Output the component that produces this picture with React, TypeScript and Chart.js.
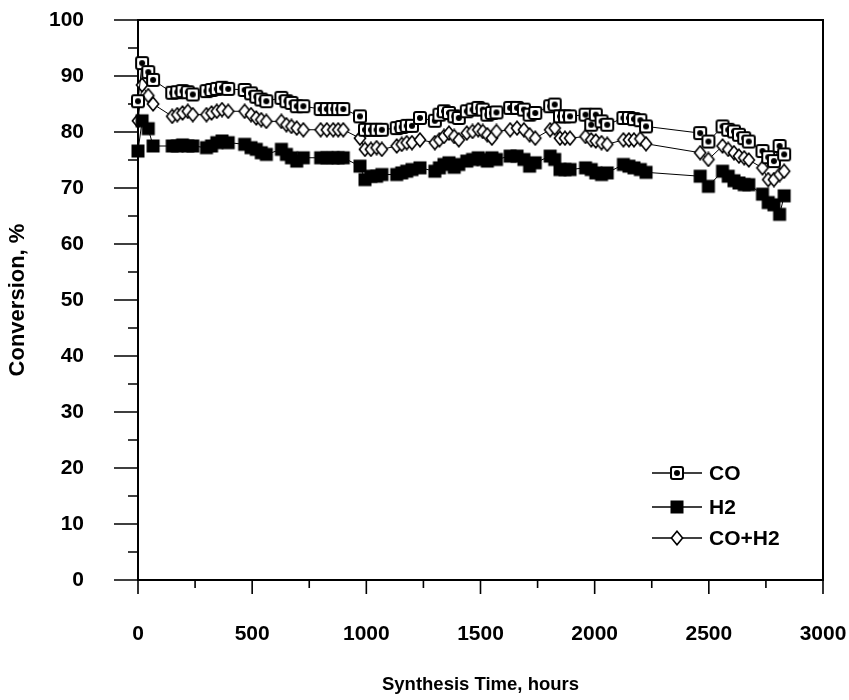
import React, { useEffect, useRef } from "react";
import { Chart, registerables } from "chart.js";

Chart.register(...registerables);

// Synthesis time of each sample, hours
const hours = [
  0, 18, 45, 66, 150, 172, 195, 218, 240, 300, 322, 345, 368, 395, 467, 495, 518, 540, 562,
  628, 650, 672, 695, 724, 800, 827, 855, 877, 899, 972, 994, 1020, 1045, 1068, 1133, 1155,
  1177, 1200, 1235, 1300, 1320, 1340, 1362, 1385, 1405, 1440, 1465, 1490, 1510, 1530, 1550,
  1570, 1630, 1660, 1690, 1715, 1740, 1805, 1825, 1848, 1870, 1892, 1960, 1985, 2005, 2030,
  2055, 2126, 2150, 2172, 2200, 2225, 2462, 2498, 2560, 2585, 2610, 2632, 2655, 2675, 2735,
  2760, 2785, 2810, 2830,
];

// CO conversion, %
const coConversion = [
  85.5, 92.3, 90.7, 89.3, 87.0, 87.1, 87.3, 87.1, 86.7, 87.3, 87.5, 87.7, 87.9, 87.7, 87.5, 86.9,
  86.3, 85.8, 85.5, 86.1, 85.5, 85.2, 84.6, 84.6, 84.1, 84.1, 84.1, 84.1, 84.1, 82.8, 80.4, 80.4,
  80.4, 80.4, 80.7, 80.9, 81.1, 81.1, 82.5, 82.0, 83.1, 83.7, 83.4, 82.8, 82.5, 83.7, 84.0, 84.3,
  84.0, 83.1, 83.4, 83.5, 84.3, 84.3, 84.0, 83.1, 83.4, 84.6, 84.9, 82.8, 82.8, 82.8, 83.1, 81.3,
  83.1, 81.9, 81.3, 82.5, 82.5, 82.3, 82.1, 81.0, 79.8, 78.3, 81.0, 80.4, 80.1, 79.5, 78.9, 78.3,
  76.6, 75.5, 74.8, 77.5, 76.0,
];

// H2 conversion, %
const h2Conversion = [
  76.6, 82.0, 80.6, 77.5, 77.5, 77.5, 77.7, 77.5, 77.5, 77.2, 77.5, 78.1, 78.4, 78.1, 77.8, 77.2,
  76.9, 76.3, 76.0, 76.9, 76.0, 75.4, 74.8, 75.4, 75.4, 75.4, 75.4, 75.4, 75.4, 73.9, 71.5, 72.1,
  72.1, 72.4, 72.4, 72.7, 73.0, 73.3, 73.6, 73.0, 73.6, 74.2, 74.5, 73.7, 74.2, 74.8, 75.1, 75.4,
  75.1, 74.8, 75.4, 75.1, 75.7, 75.7, 75.1, 73.9, 74.5, 75.7, 75.1, 73.3, 73.3, 73.3, 73.6, 73.3,
  72.7, 72.4, 72.7, 74.2, 73.9, 73.6, 73.3, 72.8, 72.1, 70.3, 73.0, 72.1, 71.3, 70.9, 70.6, 70.6,
  68.9, 67.4, 67.0, 65.3, 68.6,
];

// CO+H2 conversion, %
const synGasConversion = [
  82.0, 88.4, 86.5, 85.0, 82.8, 83.1, 83.4, 83.7, 83.1, 83.1, 83.4, 83.7, 84.0, 83.7, 83.7, 83.1,
  82.5, 82.2, 81.9, 81.9, 81.3, 81.0, 80.7, 80.4, 80.4, 80.4, 80.4, 80.4, 80.4, 78.9, 76.9, 76.9,
  77.2, 76.9, 77.5, 77.8, 78.1, 78.1, 78.6, 78.1, 78.6, 79.2, 79.8, 79.2, 78.6, 79.8, 80.1, 80.4,
  80.1, 79.5, 78.9, 80.1, 80.4, 80.7, 80.4, 79.5, 78.9, 80.4, 80.7, 78.9, 78.9, 78.9, 79.2, 78.6,
  78.4, 78.1, 77.8, 78.6, 78.6, 78.6, 78.8, 77.9, 76.3, 75.1, 77.5, 76.9, 76.3, 75.7, 75.4, 75.0,
  73.6, 71.5, 71.5, 72.4, 73.0,
];

const seriesNames = ["CO", "H2", "CO+H2"];

const xTickValues = [0, 500, 1000, 1500, 2000, 2500, 3000];
const xTickLabels = ["0", "500", "1000", "1500", "2000", "2500", "3000"];
const xMinorTicks = [250, 750, 1250, 1750, 2250, 2750];
const yTickValues = [0, 10, 20, 30, 40, 50, 60, 70, 80, 90, 100];
const yTickLabels = ["0", "10", "20", "30", "40", "50", "60", "70", "80", "90", "100"];
const yMinorTicks = [5, 15, 25, 35, 45, 55, 65, 75, 85, 95];

const FONT = '"Liberation Sans", Arial, Helvetica, sans-serif';
const INK = "#000";

type MarkerKind = "openSquareDot" | "filledSquare" | "openDiamond";

function makeMarker(kind: MarkerKind): HTMLCanvasElement {
  const c = document.createElement("canvas");
  const size = 16;
  c.width = size;
  c.height = size;
  const ctx = c.getContext("2d")!;
  ctx.strokeStyle = INK;
  ctx.fillStyle = "#fff";
  const m = size / 2;
  if (kind === "openSquareDot") {
    ctx.lineWidth = 2;
    ctx.beginPath();
    ctx.roundRect(2, 2, 12, 12, 2);
    ctx.fill();
    ctx.stroke();
    ctx.fillStyle = INK;
    ctx.beginPath();
    ctx.arc(m, m, 3, 0, Math.PI * 2);
    ctx.fill();
  } else if (kind === "filledSquare") {
    ctx.fillStyle = INK;
    ctx.fillRect(1.5, 1.5, 13, 13);
  } else {
    ctx.lineWidth = 1.6;
    ctx.beginPath();
    ctx.moveTo(m, 1.2);
    ctx.lineTo(m + 5.6, m);
    ctx.lineTo(m, size - 1.2);
    ctx.lineTo(m - 5.6, m);
    ctx.closePath();
    ctx.fill();
    ctx.stroke();
  }
  return c;
}

// Plot frame plus major/minor tick marks drawn outside the frame
const framePlugin = {
  id: "frameTicks",
  beforeDatasetsDraw(chart: any) {
    const { ctx, chartArea, scales } = chart;
    const { left, right, top, bottom } = chartArea;
    ctx.save();
    ctx.strokeStyle = INK;
    ctx.lineWidth = 2;
    ctx.strokeRect(left, top, right - left, bottom - top);
    ctx.lineWidth = 1.6;
    ctx.beginPath();
    for (const v of yTickValues) {
      const y = scales.y.getPixelForValue(v);
      ctx.moveTo(left - 24, y);
      ctx.lineTo(left, y);
    }
    for (const v of yMinorTicks) {
      const y = scales.y.getPixelForValue(v);
      ctx.moveTo(left - 10, y);
      ctx.lineTo(left, y);
    }
    for (const v of xTickValues) {
      const x = scales.x.getPixelForValue(v);
      ctx.moveTo(x, bottom);
      ctx.lineTo(x, bottom + 14);
    }
    for (const v of xMinorTicks) {
      const x = scales.x.getPixelForValue(v);
      ctx.moveTo(x, bottom);
      ctx.lineTo(x, bottom + 8);
    }
    ctx.stroke();
    ctx.restore();
  },
};

// Legend box in the lower right of the plot area
const legendPlugin = {
  id: "insetLegend",
  afterDraw(chart: any) {
    const { ctx, chartArea } = chart;
    const x0 = chartArea.right - 171;
    const rows = [chartArea.bottom - 107, chartArea.bottom - 73, chartArea.bottom - 42];
    ctx.save();
    ctx.font = `bold 21px ${FONT}`;
    ctx.textBaseline = "middle";
    ctx.fillStyle = INK;
    chart.data.datasets.forEach((ds: any, i: number) => {
      const y = rows[i];
      ctx.strokeStyle = INK;
      ctx.lineWidth = 1.5;
      ctx.beginPath();
      ctx.moveTo(x0, y);
      ctx.lineTo(x0 + 50, y);
      ctx.stroke();
      const img = ds.pointStyle as HTMLCanvasElement;
      ctx.drawImage(img, x0 + 25 - img.width / 2, y - img.height / 2);
      ctx.fillText(ds.label, x0 + 57, y + 1);
    });
    ctx.restore();
  },
};

// Keep the plot area where the layout padding puts it, without auto label margins
function noAutoPadding(scale: any) {
  scale.paddingTop = 0;
  scale.paddingBottom = 0;
  scale.paddingLeft = 0;
  scale.paddingRight = 0;
}

export default function App() {
  const canvasRef = useRef<HTMLCanvasElement | null>(null);

  useEffect(() => {
    document.body.style.margin = "0";
    const canvas = canvasRef.current;
    if (!canvas) return;

    const seriesValues = [coConversion, h2Conversion, synGasConversion];
    const markers: MarkerKind[] = ["openSquareDot", "filledSquare", "openDiamond"];

    const tickFont = { family: FONT, size: 21, weight: "bold" as const };

    const chart = new Chart(canvas, {
      type: "line",
      data: {
        datasets: seriesNames.map((name, i) => ({
          label: name,
          data: hours.map((h, j) => ({ x: h, y: seriesValues[i][j] })),
          borderColor: INK,
          borderWidth: 1,
          pointStyle: makeMarker(markers[i]),
          pointRadius: 7,
          pointHoverRadius: 7,
          tension: 0,
          clip: false as any,
          fill: false,
        })),
      },
      options: {
        animation: false,
        responsive: true,
        maintainAspectRatio: false,
        layout: { padding: { top: 20, right: 26, left: 0, bottom: 0 } },
        plugins: {
          legend: { display: false },
          tooltip: { enabled: false },
        },
        scales: {
          x: {
            type: "linear",
            min: 0,
            max: 3000,
            afterBuildTicks: (scale: any) => {
              scale.ticks = xTickValues.map((value) => ({ value }));
            },
            afterFit: (scale: any) => {
              scale.height = 120;
              noAutoPadding(scale);
            },
            grid: { display: false, drawTicks: false },
            border: { display: false },
            ticks: {
              color: INK,
              font: tickFont,
              padding: 42,
              maxRotation: 0,
              autoSkip: false,
              callback: (_v: any, i: number) => xTickLabels[i],
            },
            title: {
              display: true,
              text: "Synthesis Time, hours",
              color: INK,
              font: { family: FONT, size: 18.5, weight: "bold" },
              padding: { top: 0, bottom: 4 },
            },
          },
          y: {
            type: "linear",
            min: 0,
            max: 100,
            afterBuildTicks: (scale: any) => {
              scale.ticks = yTickValues.map((value) => ({ value }));
            },
            afterFit: (scale: any) => {
              scale.width = 138;
              noAutoPadding(scale);
            },
            grid: { display: false, drawTicks: false },
            border: { display: false },
            ticks: {
              color: INK,
              font: tickFont,
              padding: 54,
              autoSkip: false,
              callback: (_v: any, i: number) => yTickLabels[i],
            },
            title: {
              display: true,
              text: "Conversion, %",
              color: INK,
              font: { family: FONT, size: 22, weight: "bold" },
              padding: { top: 5, bottom: 0 },
            },
          },
        },
      },
      plugins: [framePlugin, legendPlugin],
    });

    return () => chart.destroy();
  }, []);

  return (
    <div style={{ position: "relative", width: 849, height: 700, background: "#fff" }}>
      <canvas ref={canvasRef} />
    </div>
  );
}
